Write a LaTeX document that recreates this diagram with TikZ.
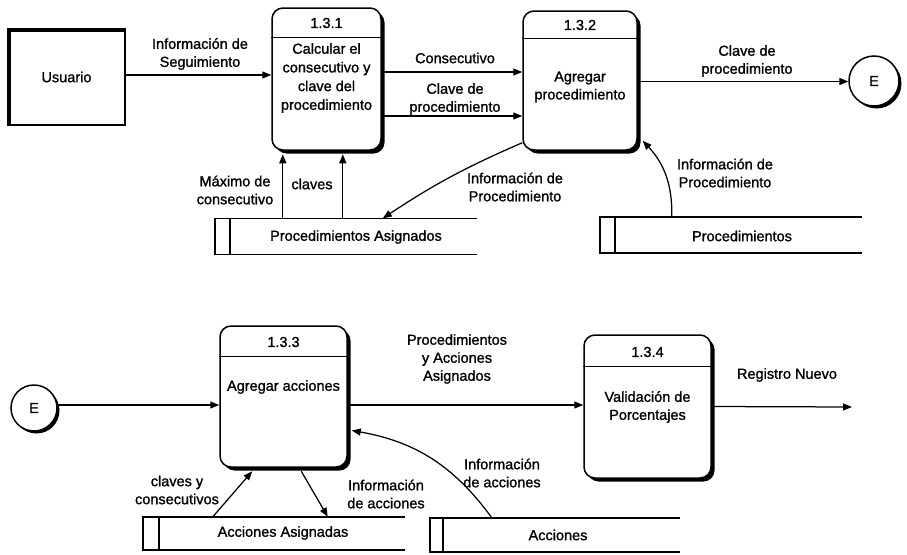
\documentclass[tikz,border=0pt]{standalone}
\usepackage{fontspec}
\setmainfont[FakeBold=1.2]{Liberation Sans}
\usetikzlibrary{arrows.meta,shadows}

\begin{document}
\begin{tikzpicture}[x=1pt,y=-1pt,
  every node/.style={font=\fontsize{14.5}{18}\selectfont, inner sep=0pt},
  lbl/.style={align=center},
  flow/.style={line width=1.25pt, -{Triangle[length=9pt,width=7pt]}},
  procbox/.style={draw, line width=1.5pt, fill=white, rounded corners=11pt,
    drop shadow={shadow xshift=3.5pt, shadow yshift=-3.5pt, opacity=1, fill=black}},
  connector/.style={circle, draw, line width=1.5pt, fill=white,
    drop shadow={shadow xshift=2.5pt, shadow yshift=-2.5pt, opacity=1, fill=black}},
  storearea/.style={minimum height=36pt},
  storeline/.style={line width=1.5pt},
  divider/.style={line width=1.3pt}
]
\useasboundingbox (0,0) rectangle (907,554);

% ---------- external entity ----------
\node[draw, line width=1.3pt, minimum width=117pt, minimum height=96pt] (usr) at (66.5,77) {Usuario};
\draw[line width=3.5pt] ([xshift=1.5pt]usr.south west) |- ([yshift=-1.5pt]usr.north east);

% ---------- processes ----------
\node[procbox, minimum width=109pt, minimum height=142pt] (p1) at (326.5,79) {};
\draw[divider] ([yshift=-30pt]p1.north west) -- ([yshift=-30pt]p1.north east);
\node (p1n) at (326.5,23) {1.3.1};
\node[lbl, font=\fontsize{14.5}{18.7}\selectfont] (p1t) at (326.5,78) {Calcular el\\consecutivo y\\clave del\\procedimiento};

\node[procbox, minimum width=114pt, minimum height=139pt] (p2) at (580,80.5) {};
\draw[divider] ([yshift=-28pt]p2.north west) -- ([yshift=-28pt]p2.north east);
\node (p2n) at (580,25) {1.3.2};
\node[lbl] (p2t) at (580,87) {Agregar\\procedimiento};

\node[procbox, minimum width=127pt, minimum height=141pt] (p3) at (283.5,396.5) {};
\draw[divider] ([yshift=-31pt]p3.north west) -- ([yshift=-31pt]p3.north east);
\node (p3n) at (283.5,342) {1.3.3};
\node (p3t) at (283.5,387) {Agregar acciones};

\node[procbox, minimum width=127pt, minimum height=143pt] (p4) at (647.5,406.5) {};
\draw[divider] ([yshift=-32pt]p4.north west) -- ([yshift=-32pt]p4.north east);
\node (p4n) at (647.5,352) {1.3.4};
\node[lbl] (p4t) at (647.5,407) {Validación de\\Porcentajes};

% ---------- connectors ----------
\node[connector, minimum size=50pt] (e1) at (874,81) {E};
\node[connector, minimum size=46pt] (e2) at (34,408) {E};

% ---------- data stores ----------
\node[storearea, minimum width=262pt] (s1) at (346,236.5) {};
\node[storearea, minimum width=262pt] (s2) at (731,235) {};
\node[storearea, minimum width=262pt, minimum height=33pt] (s3) at (274,533.5) {};
\node[storearea, minimum width=250pt, minimum height=34pt] (s4) at (555,535) {};
\foreach \s in {s1,s2,s3,s4}{
  \draw[storeline] (\s.north east) -- (\s.north west) -- (\s.south west) -- (\s.south east);
}
\draw[storeline] ([xshift=15pt]s1.north west) -- ([xshift=15pt]s1.south west);
\draw[storeline] ([xshift=15pt]s2.north west) -- ([xshift=15pt]s2.south west);
\draw[storeline] ([xshift=16pt]s3.north west) -- ([xshift=16pt]s3.south west);
\draw[storeline] ([xshift=13pt]s4.north west) -- ([xshift=13pt]s4.south west);
\node (s1t) at (356,237) {Procedimientos Asignados};
\node (s2t) at (742,236) {Procedimientos};
\node (s3t) at (283,533) {Acciones Asignadas};
\node (s4t) at (558,535) {Acciones};

% ---------- flows, top row ----------
\coordinate (a1s) at ([yshift=2pt]usr.east);
\draw[flow] (a1s) -- (a1s -| p1.west);
\node[lbl] (l1) at (200,54) {Información de\\Seguimiento};

\coordinate (a2s) at ([yshift=7pt]p1.east);
\draw[flow] (a2s) -- (a2s -| p2.west);
\node (l2) at (455,58) {Consecutivo};

\coordinate (a3s) at ([yshift=-37pt]p1.east);
\draw[flow] (a3s) -- (a3s -| p2.west);
\node[lbl] (l3) at (455,99) {Clave de\\procedimiento};

\coordinate (a4s) at ([yshift=-1pt]p2.east);
\draw[flow] (a4s) -- (a4s -| e1.west);
\node[lbl] (l4) at (747,61) {Clave de\\procedimiento};

\coordinate (p1b) at ([yshift=-3.5pt]p1.south);
\coordinate (a5s) at ([xshift=68pt]s1.north west);
\coordinate (a6s) at ([xshift=128pt]s1.north west);
\draw[flow] (a5s) -- (a5s |- p1b);
\draw[flow] (a6s) -- (a6s |- p1b);
\node[lbl] (l5) at (235,190) {Máximo de\\consecutivo};
\node (l6) at (312,184) {claves};

\coordinate (a7s) at ([yshift=8pt]p2.south west);
\coordinate (a7e) at ([xshift=168pt]s1.north west);
\draw[flow] (a7s) to[bend right=5] (a7e);
\node[lbl] (l7) at (515,187) {Información de\\Procedimiento};

\coordinate (a8s) at ([xshift=72pt]s2.north west);
\coordinate (a8e) at ([shift={(5pt,10pt)}]p2.south east);
\draw[flow] (a8s) to[bend right=22] (a8e);
\node[lbl] (l8) at (725,173) {Información de\\Procedimiento};

% ---------- flows, bottom row ----------
\coordinate (b1s) at ([yshift=3pt]e2.east);
\draw[flow] (b1s) -- (b1s -| p3.west);

\coordinate (b2s) at ([yshift=-8.5pt]p3.east);
\draw[flow] (b2s) -- (b2s -| p4.west);
\node[lbl] (l9) at (457,359) {Procedimientos\\y Acciones\\Asignados};

\coordinate (reg) at (852,407);
\draw[flow] (p4.east) -- (reg);
\node (l10) at (787,375) {Registro Nuevo};

\coordinate (b4s) at ([xshift=70pt]s3.north west);
\coordinate (b4e) at ([shift={(33pt,-3.5pt)}]p3.south west);
\draw[flow] (b4s) -- (b4e);
\node[lbl] (l11) at (177,490) {claves y\\consecutivos};

\coordinate (b5s) at ([shift={(82pt,-3.5pt)}]p3.south west);
\coordinate (b5e) at ([xshift=185pt]s3.north west);
\draw[flow] (b5s) -- (b5e);
\node[lbl] (l12) at (386,494) {Información\\de acciones};

\coordinate (b6s) at ([xshift=62pt]s4.north west);
\coordinate (b6e) at ([shift={(4pt,-34pt)}]p3.east);
\draw[flow] (b6s) to[bend right=22] (b6e);
\node[lbl] (l13) at (502,473) {Información\\de acciones};

\end{tikzpicture}
\end{document}
